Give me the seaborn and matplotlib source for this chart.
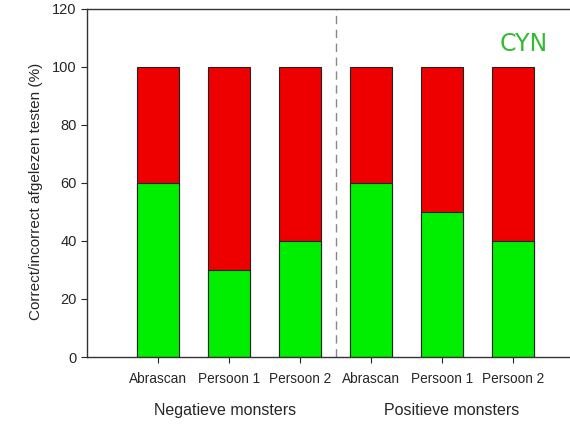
import numpy as np
import pandas as pd
import matplotlib
matplotlib.use("Agg")
import matplotlib.pyplot as plt
import seaborn as sns

# data
groups = ["Negatieve monsters", "Positieve monsters"]
testers = ["Abrascan", "Persoon 1", "Persoon 2"]
correct = [60, 30, 40, 60, 50, 40]
incorrect = [40, 70, 60, 40, 50, 60]

keys = [f"{g}|{t}" for g in groups for t in testers]
df = pd.DataFrame({
    "key": keys,
    "label": [t for g in groups for t in testers],
    "correct": correct,
    "total": np.array(correct) + np.array(incorrect),
})

sns.set_style("ticks")
plt.rcParams["font.family"] = ["Liberation Sans", "DejaVu Sans"]

fig = plt.figure(figsize=(5.7, 4.24), dpi=100)
ax = fig.add_axes([0.1526, 0.158, 0.8474, 0.821])

sns.barplot(data=df, x="key", y="total", order=keys, color="#ee0000",
            saturation=1, width=0.6, edgecolor="#222222", linewidth=0.8, ax=ax)
sns.barplot(data=df, x="key", y="correct", order=keys, color="#00ee00",
            saturation=1, width=0.6, edgecolor="#222222", linewidth=0.8, ax=ax)

ax.set_xlim(-1, 5.8)
ax.set_ylim(0, 120)
ax.set_yticks(range(0, 121, 20))
ax.set_xticks(range(len(keys)))
ax.set_xticklabels(df["label"], fontsize=9.8)
ax.tick_params(axis="y", labelsize=10.5, length=4, width=0.8, direction="out")
ax.tick_params(axis="x", length=4, width=0.8, direction="out", pad=7)
ax.set_xlabel("")
ax.set_ylabel("Correct/incorrect afgelezen testen (%)", fontsize=11)
ax.yaxis.set_label_coords(-0.092, 0.477)

for s in ["left", "bottom", "top"]:
    ax.spines[s].set_color("#333333")
    ax.spines[s].set_linewidth(1.0)
ax.spines["right"].set_visible(False)

# separator between groups
ax.axvline(2.5, color="#888888", linestyle=(0, (6, 4)), linewidth=1.0)

# group labels
for xc, g in zip([0.94, 4.13], groups):
    ax.text(xc, -18.5, g, ha="center", va="center", fontsize=11.5,
            transform=ax.transData, clip_on=False)

ax.text(0.955, 0.9, "CYN", transform=ax.transAxes, ha="right", va="center",
        fontsize=17, color="#33bb33", family="DejaVu Sans")

fig.savefig("out.png", dpi=100)
